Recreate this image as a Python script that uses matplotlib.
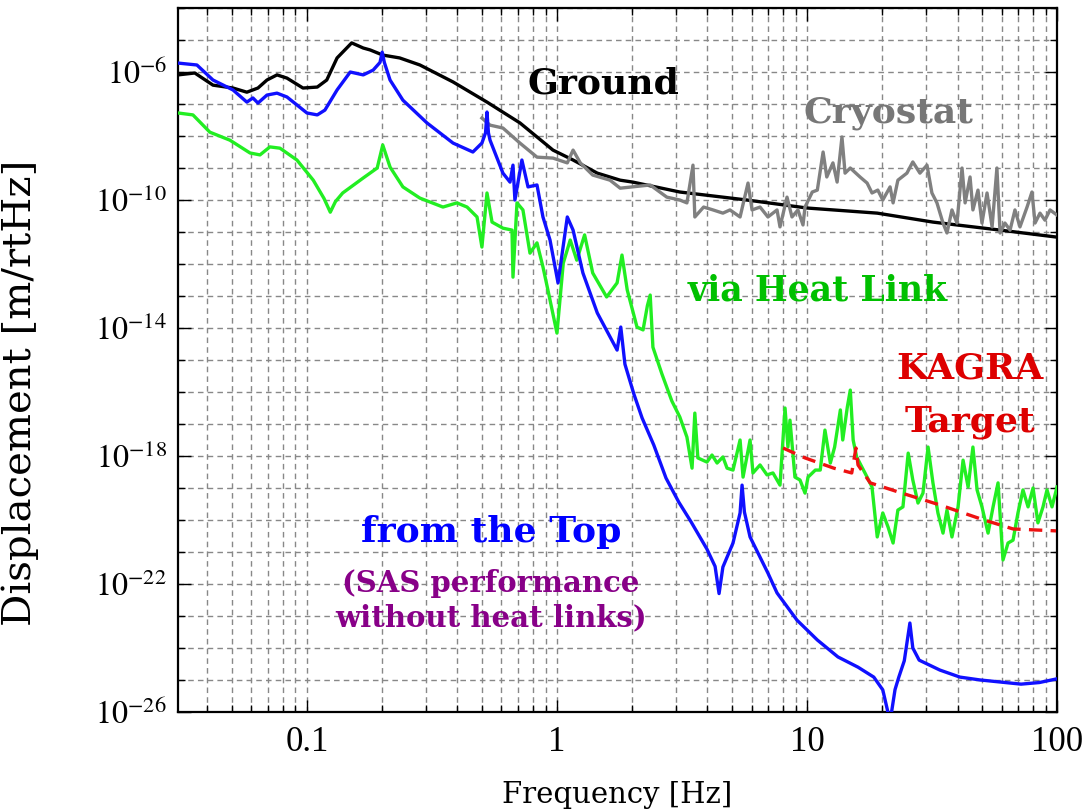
import numpy as np
import matplotlib
matplotlib.use("Agg")
import matplotlib.pyplot as plt
from matplotlib.ticker import FixedLocator, LogLocator, NullFormatter

plt.rcParams['font.family'] = ['Liberation Serif', 'DejaVu Serif']
plt.rcParams['mathtext.fontset'] = 'stix'

# frequencies in Hz, displacement as log10 exponents
ground_f = [0.0305, 0.0356, 0.0421, 0.0506, 0.0575, 0.0637, 0.0692, 0.0759, 0.0832, 0.0964,
            0.110, 0.120, 0.132, 0.151, 0.168, 0.179, 0.201, 0.235, 0.283, 0.384,
            0.525, 0.711, 0.964, 1.16, 1.45, 1.79, 2.01, 3.10, 5.75, 10.0,
            19.1, 31.9, 59.2, 100]
ground_exp = [-6.09, -6.03, -6.41, -6.50, -6.63, -6.50, -6.25, -6.09, -6.19, -6.50,
              -6.47, -6.25, -5.56, -5.09, -5.25, -5.31, -5.47, -5.56, -5.78, -6.31,
              -6.94, -7.59, -8.44, -8.75, -9.16, -9.38, -9.44, -9.75, -10.0, -10.25,
              -10.41, -10.69, -10.94, -11.16]

cryo_f = [0.501, 0.540, 0.608, 0.711, 0.832, 0.964, 1.10, 1.16, 1.24, 1.39,
          1.63, 1.79, 2.36, 2.75, 3.10, 3.31, 3.50, 3.56, 3.86, 4.21,
          4.61, 4.92, 5.40, 5.81, 6.03, 6.49, 6.98, 7.59, 7.80, 8.32,
          8.71, 9.20, 9.64, 9.82, 10.5, 11.0, 11.6, 12.0, 12.7, 13.2,
          13.8, 14.2, 14.9, 16.3, 17.4, 18.2, 19.2, 20.1, 21.5, 22.1,
          23.1, 25.1, 26.5, 28.3, 30.2, 31.6, 33.1, 35.0, 36.3, 38.0,
          39.8, 41.7, 42.9, 44.9, 46.1, 48.3, 50.1, 52.5, 55.0, 57.5,
          59.2, 61.9, 64.9, 67.9, 71.1, 75.9, 79.4, 81.7, 85.5, 89.5,
          93.8, 100]
cryo_exp = [-7.44, -7.66, -7.75, -8.22, -8.66, -8.69, -8.84, -8.44, -8.84, -9.22,
            -9.38, -9.63, -9.53, -9.91, -10.0, -10.09, -8.91, -10.53, -10.22, -10.31,
            -10.41, -10.31, -10.53, -9.47, -10.31, -10.22, -10.53, -10.31, -10.84, -9.91,
            -10.53, -10.31, -10.78, -10.22, -9.75, -9.69, -8.50, -9.28, -8.84, -9.44,
            -8.03, -9.16, -9.00, -9.28, -9.47, -9.78, -9.69, -10.0, -9.59, -10.09,
            -9.38, -9.16, -8.81, -9.16, -8.91, -9.78, -10.09, -10.72, -11.03, -10.31,
            -10.72, -9.00, -10.09, -9.28, -10.31, -9.69, -10.72, -9.78, -10.84, -9.00,
            -11.03, -10.72, -10.94, -10.31, -10.84, -10.22, -9.75, -10.72, -10.41, -10.63,
            -10.31, -10.47]

top_f = [0.0305, 0.0363, 0.0421, 0.0506, 0.0575, 0.0608, 0.0637, 0.0692, 0.0759, 0.0832,
         0.100, 0.110, 0.118, 0.132, 0.149, 0.168, 0.184, 0.196, 0.200, 0.204,
         0.215, 0.242, 0.302, 0.384, 0.461, 0.501, 0.518, 0.525, 0.532, 0.540,
         0.608, 0.649, 0.667, 0.679, 0.724, 0.766, 0.832, 0.879, 0.938, 1.01,
         1.10, 1.16, 1.27, 1.45, 1.74, 1.80, 1.87, 2.03, 2.19, 2.44,
         2.73, 3.07, 3.44, 3.98, 4.29, 4.45, 4.61, 5.06, 5.40, 5.50,
         5.62, 5.92, 6.98, 7.59, 9.12, 11.0, 13.3, 16.0, 18.5, 20.1,
         21.5, 22.5, 23.3, 24.5, 25.8, 26.5, 28.1, 34.0, 40.9, 49.3,
         71.8, 85.0, 99.1]
top_exp = [-5.72, -5.78, -6.25, -6.56, -6.94, -6.81, -6.97, -6.72, -6.66, -6.78,
           -7.28, -7.34, -7.19, -6.56, -6.00, -6.09, -5.94, -5.70, -5.38, -5.70,
           -6.25, -6.88, -7.59, -8.22, -8.50, -8.22, -7.90, -7.25, -7.90, -8.13,
           -9.16, -9.44, -8.91, -10.0, -8.75, -9.59, -9.53, -10.53, -11.25, -12.59,
           -10.53, -10.94, -12.28, -13.53, -14.69, -13.97, -15.13, -16.06, -16.81, -17.66,
           -18.69, -19.44, -20.06, -20.91, -21.45, -22.30, -21.47, -20.72, -19.78, -18.91,
           -19.75, -20.53, -21.66, -22.28, -23.13, -23.75, -24.28, -24.60, -24.91, -25.31,
           -26.30, -25.30, -24.91, -24.40, -23.22, -24.00, -24.38, -24.69, -24.91, -25.00,
           -25.13, -25.08, -24.97]

link_f = [0.0305, 0.0350, 0.0409, 0.0492, 0.0592, 0.0649, 0.0711, 0.0780, 0.0912, 0.106,
          0.117, 0.124, 0.130, 0.139, 0.168, 0.191, 0.201, 0.215, 0.242, 0.283,
          0.350, 0.398, 0.437, 0.479, 0.501, 0.525, 0.550, 0.608, 0.661, 0.667,
          0.692, 0.731, 0.780, 0.832, 0.879, 0.920, 1.00, 1.06, 1.13, 1.20,
          1.29, 1.39, 1.58, 1.74, 1.82, 1.91, 2.09, 2.21, 2.30, 2.36,
          2.42, 2.63, 2.88, 3.10, 3.31, 3.47, 3.56, 3.66, 3.98, 4.17,
          4.37, 4.61, 4.79, 5.06, 5.40, 5.55, 5.92, 6.08, 6.49, 6.92,
          7.31, 7.80, 8.17, 8.39, 8.55, 8.95, 9.38, 9.82, 10.1, 10.8,
          11.3, 11.8, 12.4, 12.9, 13.6, 13.9, 14.5, 14.9, 15.3, 15.8,
          17.4, 18.2, 19.1, 20.1, 21.1, 22.1, 23.1, 24.2, 25.4, 26.5,
          27.8, 29.1, 30.5, 31.9, 33.4, 35.0, 36.3, 38.0, 40.2, 42.1,
          44.1, 46.1, 47.9, 50.1, 53.0, 55.5, 58.1, 60.8, 63.7, 66.7,
          69.8, 73.1, 76.6, 80.2, 83.9, 87.9, 91.2, 95.5, 100]
link_exp = [-7.28, -7.34, -7.88, -8.13, -8.53, -8.59, -8.34, -8.38, -8.75, -9.38,
            -9.95, -10.38, -10.05, -9.78, -9.31, -9.00, -8.28, -8.97, -9.59, -9.94,
            -10.22, -10.09, -10.22, -10.53, -11.47, -9.78, -10.69, -10.88, -10.94, -12.41,
            -10.09, -10.31, -11.66, -11.34, -12.09, -12.81, -14.16, -11.97, -11.25, -11.88,
            -11.09, -12.28, -13.03, -12.59, -11.72, -12.81, -13.97, -14.06, -13.30, -12.97,
            -14.60, -15.44, -16.28, -16.78, -17.41, -18.38, -16.66, -18.06, -18.19, -17.97,
            -18.22, -18.03, -18.38, -18.44, -17.50, -18.66, -17.50, -18.53, -18.28, -18.59,
            -18.53, -18.91, -16.50, -17.72, -16.88, -18.66, -18.75, -19.16, -18.66, -18.44,
            -18.44, -17.19, -18.22, -17.72, -16.56, -17.50, -16.47, -15.94, -17.50, -18.03,
            -18.66, -18.97, -20.53, -19.78, -20.22, -20.72, -19.69, -19.59, -17.91, -18.75,
            -19.47, -19.16, -17.72, -18.84, -19.78, -20.41, -19.69, -20.53, -19.59, -18.13,
            -18.97, -17.72, -19.06, -19.59, -20.41, -19.59, -18.84, -21.25, -20.72, -20.63,
            -19.78, -19.06, -19.59, -19.00, -20.09, -19.59, -19.06, -19.59, -18.97]

kagra_f = [8.02, 9.82, 12.8, 15.1, 15.7, 16.0, 17.9, 23.3, 34.0, 49.7, 66.7, 99.1]
kagra_exp = [-17.75, -18.06, -18.38, -18.53, -17.75, -18.28, -18.84, -19.13, -19.53, -19.97,
             -20.28, -20.34]

y_major = [1e-26, 1e-22, 1e-18, 1e-14, 1e-10, 1e-6]
y_labels = [r'$10^{-26}$', r'$10^{-22}$', r'$10^{-18}$', r'$10^{-14}$', r'$10^{-10}$', r'$10^{-6}$']
x_major = [0.1, 1, 10, 100]
x_labels = ['0.1', '1', '10', '100']


def disp(exps):
    return 10.0 ** np.array(exps)


fig = plt.figure(figsize=(10.86, 8.11), dpi=100)
ax = fig.add_axes([0.1639, 0.1221, 0.8094, 0.8680])
ax.set_xscale('log')
ax.set_yscale('log')

lw = 2.4
ax.plot(ground_f, disp(ground_exp), color='black', lw=lw, zorder=3)
ax.plot(cryo_f, disp(cryo_exp), color='#808080', lw=lw, zorder=3)
ax.plot(link_f, disp(link_exp), color='#22ee22', lw=lw, zorder=4)
ax.plot(top_f, disp(top_exp), color='#1010ff', lw=lw, zorder=5)
ax.plot(kagra_f, disp(kagra_exp), color='#ee1111', lw=lw, ls=(0, (4, 2.5)), zorder=6)

ax.set_xlim(0.0305, 100)
ax.set_ylim(1e-26, 1e-4)

ax.xaxis.set_major_locator(FixedLocator(x_major))
ax.set_xticklabels(x_labels)
ax.xaxis.set_minor_locator(LogLocator(base=10, subs=np.arange(2, 10), numticks=20))
ax.xaxis.set_minor_formatter(NullFormatter())
ax.yaxis.set_major_locator(FixedLocator(y_major))
ax.set_yticklabels(y_labels)
ax.yaxis.set_minor_locator(LogLocator(base=10, subs=(1.0,), numticks=40))
ax.yaxis.set_minor_formatter(NullFormatter())

ax.tick_params(which='both', direction='in', top=True, right=True, width=1.0)
ax.tick_params(which='major', length=9, pad=10)
ax.tick_params(which='minor', length=5)
ax.tick_params(axis='x', labelsize=25, pad=10)
ax.tick_params(axis='y', labelsize=23, pad=8)

ax.grid(True, which='both', color='#888888', ls=(0, (4, 3)), lw=1.0, zorder=1)
for s in ax.spines.values():
    s.set_linewidth(1.6)

ax.set_xlabel('Frequency [Hz]', fontsize=21, family='DejaVu Serif', labelpad=16)
ax.set_ylabel('Displacement [m/rtHz]', fontsize=29, family='DejaVu Serif')
ax.yaxis.set_label_coords(-0.158, 0.453)

bold = dict(family='DejaVu Serif', fontweight='bold', ha='center', va='baseline',
            transform=ax.transAxes, zorder=7)
ax.text(0.4835, 0.878, 'Ground', color='black', fontsize=26, **bold)
ax.text(0.808, 0.838, 'Cryostat', color='#777777', fontsize=26, **bold)
ax.text(0.728, 0.585, 'via Heat Link', color='#00c000', fontsize=25, **bold)
ax.text(0.901, 0.474, 'KAGRA', color='#dd0000', fontsize=26, **bold)
ax.text(0.901, 0.398, 'Target', color='#dd0000', fontsize=26, **bold)
ax.text(0.356, 0.241, 'from the Top', color='#0000ff', fontsize=26, **bold)
ax.text(0.356, 0.170, '(SAS performance', color='#880088', fontsize=21, **bold)
ax.text(0.356, 0.121, 'without heat links)', color='#880088', fontsize=21, **bold)

fig.savefig('out.png', dpi=100)
